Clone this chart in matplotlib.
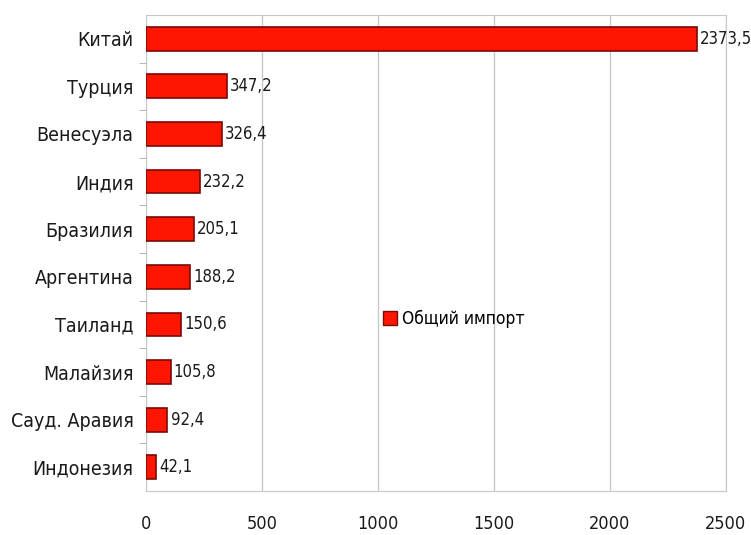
import matplotlib
matplotlib.use("Agg")
import matplotlib.pyplot as plt
from matplotlib.lines import Line2D

# narrow look of the original -> DejaVu Sans Condensed
plt.rcParams['font.family'] = ['DejaVu Sans']
plt.rcParams['font.stretch'] = 'condensed'

countries = ["Китай", "Турция", "Венесуэла", "Индия", "Бразилия", "Аргентина",
             "Таиланд", "Малайзия", "Сауд. Аравия", "Индонезия"]
imports = [2373.5, 347.2, 326.4, 232.2, 205.1, 188.2, 150.6, 105.8, 92.4, 42.1]
x_ticks = [0, 500, 1000, 1500, 2000, 2500]
series_name = "Общий импорт"

fig = plt.figure(figsize=(7.51, 5.35), dpi=100)
ax = fig.add_axes([0.1944, 0.0822, 0.7723, 0.8898])

pos = list(range(len(countries)))
ax.barh(pos, imports, height=0.5, color="#ff1500", edgecolor="#7a0a05", linewidth=1.2, zorder=3)
for p, v in zip(pos, imports):
    ax.text(v + 14, p, f"{v:.1f}".replace(".", ","), va="center", ha="left",
            fontsize=12, color="#1a1a1a", zorder=4, clip_on=False)

ax.set_ylim(len(countries) - 0.5, -0.5)
ax.set_xlim(0, 2500)
ax.set_yticks(pos)
ax.set_yticklabels(countries, fontsize=14, color="#1a1a1a")
ax.set_yticks([p + 0.5 for p in pos[:-1]], minor=True)
ax.tick_params(axis="y", which="major", length=0, pad=9)
ax.tick_params(axis="y", which="minor", length=5, color="#aaaaaa")
ax.set_xticks(x_ticks)
ax.set_xticklabels([str(t) for t in x_ticks], fontsize=13, color="#1a1a1a")
ax.tick_params(axis="x", length=0, pad=17)
ax.grid(axis="x", color="#c8c8c8", linewidth=1, zorder=0)
for s in ax.spines.values():
    s.set_color("#c8c8c8")
ax.spines["left"].set_visible(False)

h = Line2D([], [], marker="s", linestyle="none", markersize=10,
           markerfacecolor="#ff1500", markeredgecolor="#7a0a05")
ax.legend([h], [series_name], loc="center left", bbox_to_anchor=(0.382, 0.362),
          frameon=False, fontsize=12.5, handletextpad=0.3, handlelength=0.8)

fig.savefig("out.png", dpi=100)
